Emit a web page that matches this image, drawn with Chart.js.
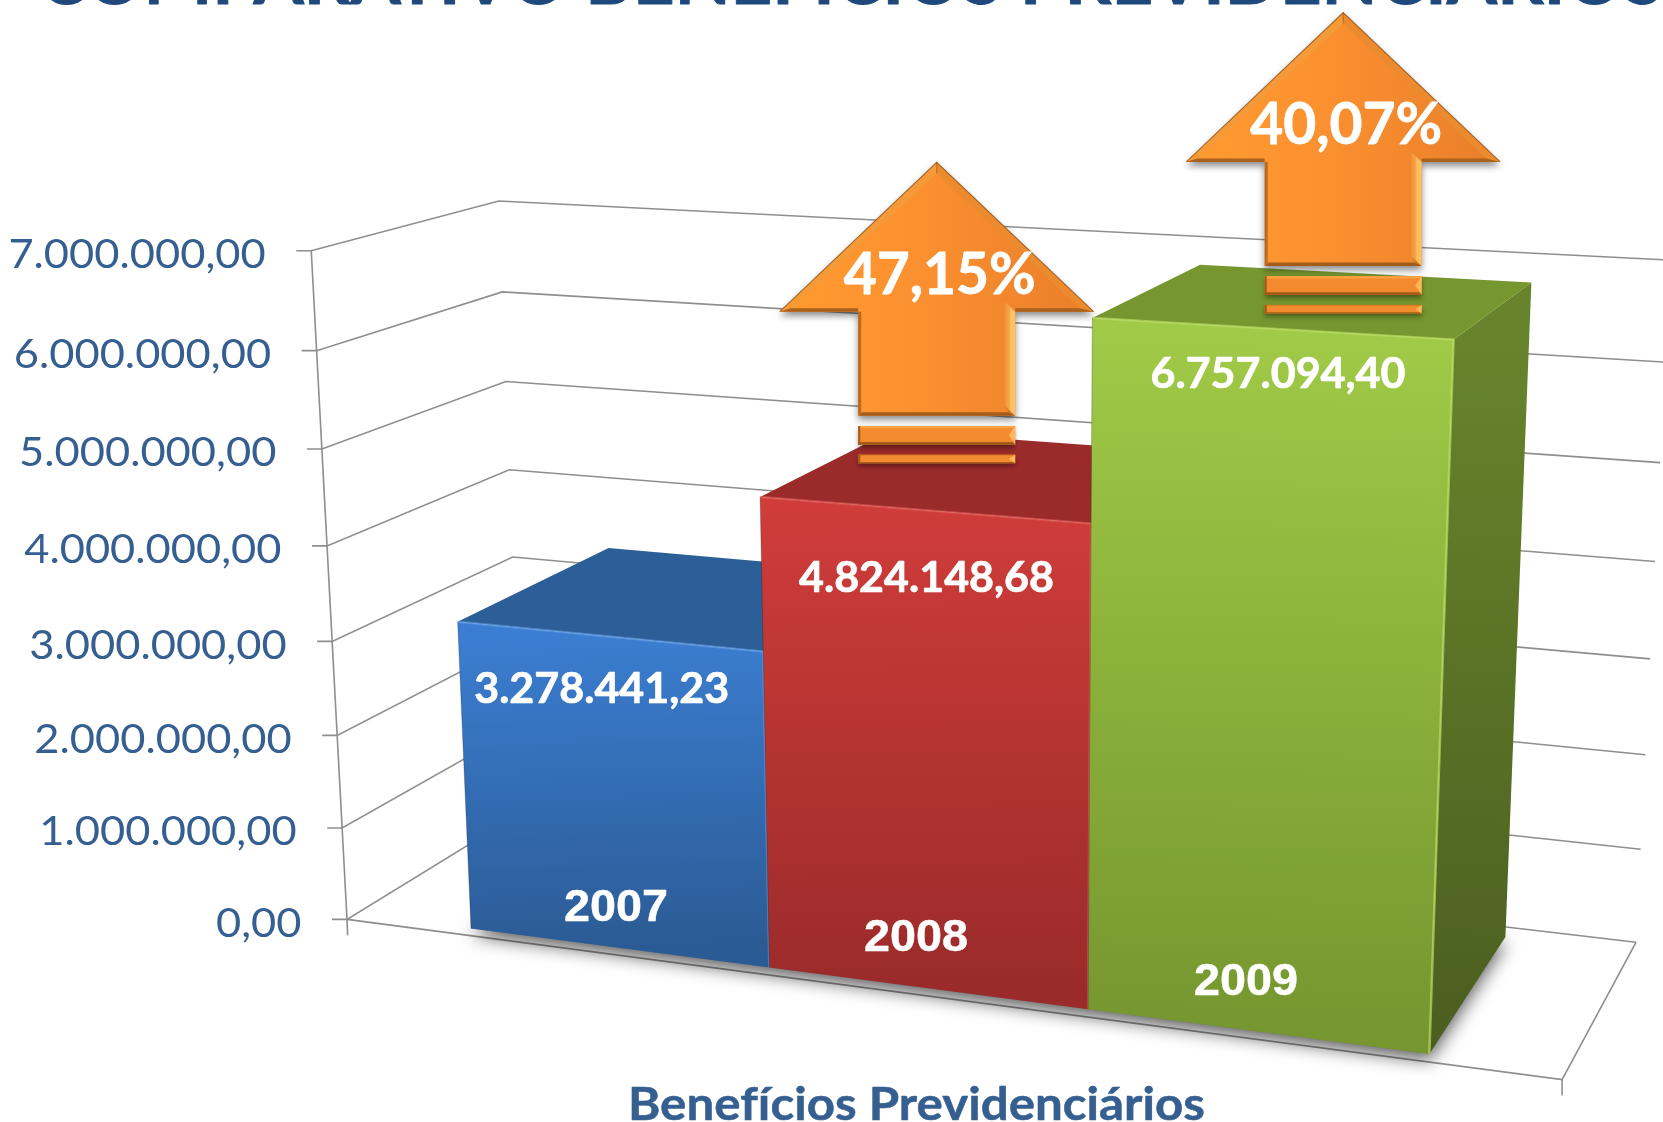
<!DOCTYPE html>
<html>
<head>
<meta charset="utf-8">
<style>html,body{margin:0;padding:0;background:#fff;overflow:hidden}#wrap{position:absolute;left:0;top:0;width:1663px;height:1122px}</style>
<script src="https://cdn.jsdelivr.net/npm/chart.js@4/dist/chart.umd.js"></script>
</head>
<body>
<div id="wrap"><canvas id="c" width="1663" height="1122"></canvas></div>
<script>
const categories = ['2007', '2008', '2009'];
const beneficios = [3278441.23, 4824148.68, 6757094.40];
const yTicks = [0, 1000000, 2000000, 3000000, 4000000, 5000000, 6000000, 7000000];
const growthLabels = ['47,15%', '40,07%'];
const chartTitle = 'COMPARATIVO BENEFÍCIOS PREVIDENCIÁRIOS';
const axisTitle = 'Benefícios Previdenciários';

const fmt = v => v.toLocaleString('pt-BR', {minimumFractionDigits: 2, maximumFractionDigits: 2});

/* ---- projection calibration: (u along floor, v height, w depth) -> page pixels ---- */
const calib = [
  [0,0,0, 346.7,919],[0,3/7,0, 332.5,641.4],[0,1,0, 311.3,250.7],
  [1,0,0, 1562,1080],[1,0,1, 1635.5,942],[0,0,1, 523,812],
  [0,4/7,1, 509,469.6],[0,6/7,1, 502,292],[0,1,1, 499,201],
  [1,3/7,1, 1651,658.6],[1,1,1, 1670,260.4]
];
function solveProjection(pts){
  const A=[],b=[];
  pts.forEach(([u,v,w,x,y])=>{
    x/=1000;y/=1000;
    A.push([u,v,w,1,0,0,0,0,-x*u,-x*v,-x*w]);b.push(x);
    A.push([0,0,0,0,u,v,w,1,-y*u,-y*v,-y*w]);b.push(y);
  });
  const n=11,M=[];
  for(let i=0;i<n;i++){M.push(new Array(n+1).fill(0));
    for(let j=0;j<n;j++)for(let k=0;k<A.length;k++)M[i][j]+=A[k][i]*A[k][j];
    for(let k=0;k<A.length;k++)M[i][n]+=A[k][i]*b[k];}
  for(let i=0;i<n;i++){let p=i;for(let r=i+1;r<n;r++)if(Math.abs(M[r][i])>Math.abs(M[p][i]))p=r;
    [M[i],M[p]]=[M[p],M[i]];
    for(let r=0;r<n;r++){if(r===i)continue;const f=M[r][i]/M[i][i];for(let c=i;c<=n;c++)M[r][c]-=f*M[i][c];}}
  return M.map((row,i)=>row[n]/row[i]);
}
const H=solveProjection(calib);
function P(u,v,w){
  const d=H[8]*u+H[9]*v+H[10]*w+1;
  return [1000*(H[0]*u+H[1]*v+H[2]*w+H[3])/d,1000*(H[4]*u+H[5]*v+H[6]*w+H[7])/d];
}

const BAR_U=[0.106,0.899], BAR_W=[0.05,0.925];
const faceStyles=[
  {top:'#2C5E97',fT:'#3B7DD0',fB:'#2B5B95',sT:'#2A5A90',sB:'#234B7A',edge:'rgba(110,165,235,.55)'},
  {top:'#9B2B2B',fT:'#CF3C3A',fB:'#9A2B2A',sT:'#8A2625',sB:'#701E1E',edge:'rgba(230,100,95,.55)'},
  {top:'#76962F',fT:'#A0CA47',fB:'#76962F',sT:'#67842C',sB:'#4A5E1F',edge:'rgba(185,220,100,.7)'}
];
const valueLabelPos=[[601.7,689],[926.5,578],[1278,374]];
const categoryLabelPos=[[616,909],[916,938.5],[1246,983]];
const arrowPos=[[936.7,162.3],[1343.2,12.5]];

function poly(ctx,pts){ctx.beginPath();pts.forEach((p,i)=>i?ctx.lineTo(p[0],p[1]):ctx.moveTo(p[0],p[1]));ctx.closePath();}
function line(ctx,pts){ctx.beginPath();pts.forEach((p,i)=>i?ctx.lineTo(p[0],p[1]):ctx.moveTo(p[0],p[1]));ctx.stroke();}
function fitText(ctx,text,cx,cy,font,width,color,bold){
  ctx.save();ctx.font=font;ctx.fillStyle=color;ctx.textAlign='center';ctx.textBaseline='middle';
  ctx.letterSpacing='0.01px';
  const sx=width/ctx.measureText(text).width;
  ctx.translate(cx,cy);ctx.scale(sx,1);
  if(bold){ctx.strokeStyle=color;ctx.lineWidth=bold;ctx.lineJoin='round';ctx.strokeText(text,0,0);}
  ctx.fillText(text,0,0);ctx.restore();
}
function vGrad(ctx,a,b,c0,c1){const g=ctx.createLinearGradient(a[0],a[1],b[0],b[1]);g.addColorStop(0,c0);g.addColorStop(1,c1);return g;}

function drawArrow(ctx,cx,ay,label){
  const L=(x,y)=>[cx+x,ay+y];
  const O=[L(0,0),L(157,149.4),L(78.5,149.4),L(78.5,253.4),L(-78.5,253.4),L(-78.5,149.4),L(-157,149.4)];
  const fillG=ctx.createLinearGradient(cx-157,0,cx+157,0);
  fillG.addColorStop(0,'#FF9B2F');fillG.addColorStop(.45,'#FB9030');fillG.addColorStop(1,'#E87E2A');
  ctx.save();ctx.shadowColor='rgba(0,0,0,.45)';ctx.shadowBlur=7;ctx.shadowOffsetY=4;ctx.fillStyle=fillG;poly(ctx,O);ctx.fill();ctx.restore();
  /* bevel facets */
  const facet=(c,pts)=>{ctx.fillStyle=c;poly(ctx,pts);ctx.fill();};
  facet('#F59A38',[L(0,0),L(-157,149.4),L(-146,146),L(0,11)]);
  facet('#EC8A2E',[L(0,0),L(157,149.4),L(143,146),L(0,11)]);
  facet('#A9611C',[L(-157,149.4),L(-78.5,149.4),L(-78.5,146),L(-146,146)]);
  facet('#A9611C',[L(157,149.4),L(78.5,149.4),L(78.5,146),L(143,146)]);
  facet('#A45C1A',[L(78.5,253.4),L(-78.5,253.4),L(-75,250),L(72,250)]);
  facet('#B96A20',[L(-78.5,149.4),L(-78.5,253.4),L(-75.5,250),L(-75.5,149.4)]);
  const sg=ctx.createLinearGradient(cx+68,0,cx+78.5,0);
  sg.addColorStop(0,'#F0923A');sg.addColorStop(.45,'#F8A548');sg.addColorStop(.55,'#FFC063');sg.addColorStop(1,'#FFC063');
  facet(sg,[L(68,139.4),L(78.5,149.4),L(78.5,253.4),L(68,244)]);
  facet('#C87A2A',[L(68,244),L(78.5,253.4),L(72,250)]);
  ctx.strokeStyle='rgba(140,80,25,.75)';ctx.lineWidth=1.1;line(ctx,[L(-157,149.4),L(0,0),L(157,149.4)]);
  ctx.strokeStyle='rgba(140,80,25,.55)';line(ctx,[L(0,0),L(0,11)]);
  [[263.7,282.4],[292.4,301]].forEach(([t,b])=>{
    ctx.save();ctx.shadowColor='rgba(0,0,0,.4)';ctx.shadowBlur=5;ctx.shadowOffsetY=3;ctx.fillStyle='#F38A2D';
    ctx.fillRect(cx-78.5,ay+t,157,b-t);ctx.restore();
    const h=b-t;
    ctx.fillStyle=h>10?'#FBA243':'#D97A22';ctx.fillRect(cx-78.5,ay+t,157,h*.12);
    ctx.fillStyle='#9F5A1A';ctx.fillRect(cx-78.5,ay+b-h*.14,157,h*.14);ctx.fillRect(cx-78.5,ay+t,2,h);
    ctx.fillStyle='#FFB65C';poly(ctx,[[cx+78.5,ay+t],[cx+78.5,ay+b],[cx+72,ay+(t+b)/2]]);ctx.fill();
  });
  fitText(ctx,label,cx+3,ay+113,'bold 57px Lato',192,'#fff',0.8);
}

const scene3d={
  id:'scene3d',
  afterDatasetsDraw(chart){
    const ctx=chart.ctx,a=chart.chartArea,ys=chart.scales.y,W=a.right-a.left;
    const toU=px=>BAR_U[0]+(px-a.left)/W*(BAR_U[1]-BAR_U[0]);
    const toV=val=>(a.bottom-ys.getPixelForValue(val))/(a.bottom-a.top);
    ctx.save();
    /* walls and floor */
    ctx.strokeStyle='#8E8E8E';ctx.lineWidth=1.6;
    yTicks.forEach(t=>{
      const v=toV(t),f=P(0,v,0);
      line(ctx,[[f[0]-15,f[1]],f,P(0,v,1),P(1,v,1)]);
    });
    const f0=P(0,0,0),f1=P(0,1,0),r0=P(1,0,0);
    line(ctx,[f1,f0,[f0[0]+0.6,f0[1]+16]]);
    line(ctx,[f0,r0,P(1,0,1)]);
    line(ctx,[r0,[r0[0],r0[1]+16]]);
    /* bars, from the bar elements' scale positions */
    const bars=chart.getDatasetMeta(0).data;
    const [wf,wb]=BAR_W;
    /* contact shadow */
    const u0=toU(bars[0].x-bars[0].width/2),u1=toU(bars[2].x+bars[2].width/2);
    ctx.save();ctx.shadowColor='rgba(0,0,0,.65)';ctx.shadowBlur=18;ctx.shadowOffsetY=6;ctx.fillStyle='#777';
    poly(ctx,[P(u0,0,wf),P(u1,0,wf),P(u1,0,wb),P(u0,0,wb)]);ctx.fill();ctx.restore();
    bars.forEach((b,i)=>{
      const s=faceStyles[i],uL=toU(b.x-b.width/2),uR=toU(b.x+b.width/2),v=(a.bottom-b.y)/(a.bottom-a.top);
      const st=P((uL+uR)/2,v,wf),sb=P((uL+uR)/2,0,wf);
      /* right side */
      ctx.fillStyle=vGrad(ctx,P(uR,v,wf),P(uR,0,wf),s.sT,s.sB);
      poly(ctx,[P(uR,0,wf),P(uR,0,wb),P(uR,v,wb),P(uR,v,wf)]);ctx.fill();
      /* top */
      ctx.fillStyle=s.top;
      poly(ctx,[P(uL,v,wf),P(uR,v,wf),P(uR,v,wb),P(uL,v,wb)]);ctx.fill();
      /* front */
      ctx.fillStyle=vGrad(ctx,st,sb,s.fT,s.fB);
      poly(ctx,[P(uL,0,wf),P(uR,0,wf),P(uR,v,wf),P(uL,v,wf)]);ctx.fill();
      /* lit front edges */
      ctx.strokeStyle=s.edge;ctx.lineWidth=2.5;
      line(ctx,[P(uL,v,wf),P(uR,v,wf),P(uR,0,wf)]);
      ctx.strokeStyle='rgba(0,0,0,.22)';ctx.lineWidth=1;
      line(ctx,[P(uL,0,wf),P(uL,v,wf)]);
    });
    /* text on bars */
    bars.forEach((b,i)=>{
      fitText(ctx,fmt(beneficios[i]),valueLabelPos[i][0],valueLabelPos[i][1],'bold 42px Lato',255,'#fff',0.7);
      fitText(ctx,categories[i],categoryLabelPos[i][0],categoryLabelPos[i][1],'bold 45px "Liberation Sans"',104,'#fff',0.5);
    });
    /* arrows */
    arrowPos.forEach((p,i)=>drawArrow(ctx,p[0],p[1],growthLabels[i]));
    /* axis tick labels */
    yTicks.forEach(t=>{
      const f=P(0,toV(t),0),txt=fmt(t);
      ctx.save();ctx.font='41px Lato';ctx.letterSpacing='0.01px';const mw=ctx.measureText(txt).width;ctx.restore();
      const w=mw*1.06;
      fitText(ctx,txt,f[0]-45.5-w/2,f[1]+4,'41px Lato',w,'#365F91');
    });
    fitText(ctx,axisTitle,916.5,1105,'bold 45px Lato',577,'#365F91',0.5);
    fitText(ctx,chartTitle,851,-20,'bold 74px Lato',1625,'#1F497D',1);
    ctx.restore();
  }
};

new Chart(document.getElementById('c'),{
  type:'bar',
  data:{labels:categories,datasets:[{label:axisTitle,data:beneficios,backgroundColor:'rgba(0,0,0,0)',borderWidth:0,barPercentage:1,categoryPercentage:1}]},
  options:{
    responsive:false,animation:false,
    layout:{padding:{left:350,right:200,top:200,bottom:150}},
    plugins:{legend:{display:false},tooltip:{enabled:false},title:{display:false}},
    scales:{
      x:{display:false,offset:true},
      y:{display:false,min:0,max:7000000,afterBuildTicks(s){s.ticks=yTicks.map(value=>({value}));}}
    }
  },
  plugins:[scene3d]
});
</script>
</body>
</html>
